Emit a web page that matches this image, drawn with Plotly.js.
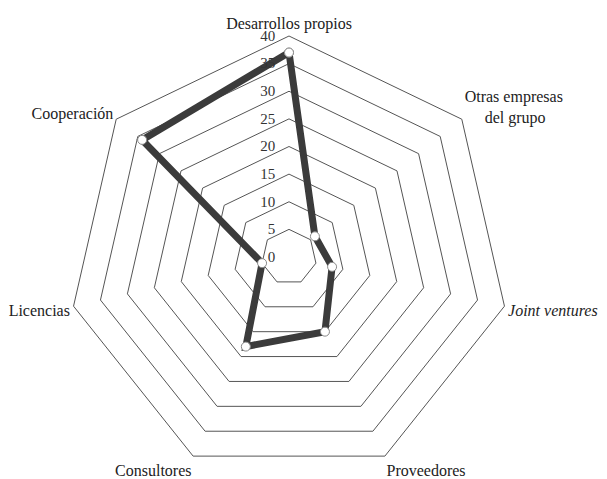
<!DOCTYPE html>
<html>
<head>
<meta charset="utf-8">
<script src="https://cdn.plot.ly/plotly-3.0.1.min.js"></script>
<style>
  html, body { margin: 0; padding: 0; background: #fff; }
  #chart { width: 607px; height: 479px; }
</style>
</head>
<body>
<div id="chart"></div>
<script>
  // Categories clockwise from the top
  var categories = ['Desarrollos propios', 'Otras empresas<br>&nbsp;&nbsp;&nbsp;&nbsp;&nbsp;del grupo', '<i>Joint ventures</i>',
                    'Proveedores', 'Consultores', 'Licencias', 'Cooperación'];
  var values = [37, 6, 8, 15, 18, 5, 34];
  var tickVals = [0, 5, 10, 15, 20, 25, 30, 35, 40];

  // close the polygon
  var theta = categories.concat([categories[0]]);
  var r = values.concat([values[0]]);

  var trace = {
    type: 'scatterpolar',
    r: r,
    theta: theta,
    mode: 'lines+markers',
    line: {color: '#3b3b3b', width: 7},
    marker: {size: 9, color: '#ffffff', line: {color: '#8a8a8a', width: 1}},
    hoverinfo: 'skip',
    cliponaxis: false
  };

  var layout = {
    width: 607,
    height: 479,
    margin: {l: 0, r: 0, t: 0, b: 0},
    paper_bgcolor: '#fff',
    showlegend: false,
    font: {family: 'Liberation Serif, DejaVu Serif, serif', size: 16, color: '#222'},
    polar: {
      domain: {x: [68/607, 510/607], y: [1 - 478/479, 1 - 36/479]},
      gridshape: 'linear',
      bgcolor: 'rgba(0,0,0,0)',
      radialaxis: {
        range: [0, 40],
        tickvals: tickVals,
        angle: 90,
        tickangle: 90,
        side: 'counterclockwise',
        showline: false,
        // invisible ticks just to push the labels off the axis
        ticks: 'outside',
        ticklen: 8,
        tickcolor: 'rgba(0,0,0,0)',
        gridcolor: '#555',
        gridwidth: 1,
        tickfont: {size: 15, color: '#333'}
      },
      angularaxis: {
        rotation: 90,
        direction: 'clockwise',
        showgrid: false,
        showline: true,
        linecolor: '#555',
        linewidth: 1,
        ticks: '',
        tickfont: {size: 16, color: '#222'}
      }
    }
  };

  Plotly.newPlot('chart', [trace], layout, {staticPlot: true});
</script>
</body>
</html>
